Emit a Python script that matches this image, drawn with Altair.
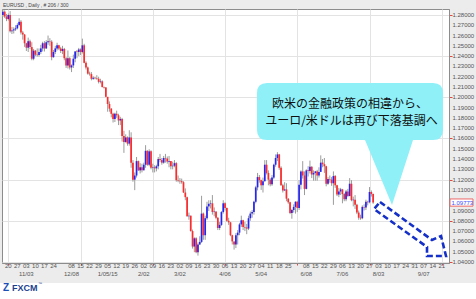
import altair as alt
import pandas as pd

# ---- data (EUR/USD daily, bar index 0 = Mon 2014-10-20) ----
first_open = 1.2800
closes = [1.2832, 1.2785, 1.2760, 1.2800, 1.2643, 1.2650, 1.2660, 1.2670, 1.2703, 1.2733,
          1.2629, 1.2610, 1.2525, 1.2482, 1.2545, 1.2488, 1.2375, 1.2453, 1.2415, 1.2410,
          1.2440, 1.2475, 1.2525, 1.2475, 1.2535, 1.2545, 1.2540, 1.2390, 1.2440, 1.2475,
          1.2505, 1.2475, 1.2450, 1.2470, 1.2380, 1.2310, 1.2380, 1.2290, 1.2310, 1.2375,
          1.2445, 1.2440, 1.2465, 1.2440, 1.2505, 1.2335, 1.2290, 1.2230, 1.2225, 1.2180,
          1.2190, 1.2185, 1.2180, 1.2150, 1.2155, 1.2100, 1.2095, 1.2005, 1.1935, 1.1890,
          1.1840, 1.1790, 1.1840, 1.1825, 1.1775, 1.1790, 1.1625, 1.1565, 1.1610, 1.1550,
          1.1610, 1.1365, 1.1200, 1.1240, 1.1380, 1.1290, 1.1320, 1.1290, 1.1345, 1.1480,
          1.1345, 1.1475, 1.1315, 1.1320, 1.1310, 1.1330, 1.1400, 1.1390, 1.1365, 1.1410,
          1.1405, 1.1375, 1.1380, 1.1330, 1.1335, 1.1360, 1.1195, 1.1190, 1.1185, 1.1175,
          1.1075, 1.1030, 1.0845, 1.0850, 1.0700, 1.0550, 1.0630, 1.0495, 1.0570, 1.0595,
          1.0870, 1.0660, 1.0825, 1.0940, 1.0965, 1.0970, 1.0885, 1.0890, 1.0830, 1.0730,
          1.0760, 1.0885, 1.0970, 1.0925, 1.0800, 1.0785, 1.0660, 1.0600, 1.0570, 1.0660,
          1.0685, 1.0765, 1.0805, 1.0740, 1.0735, 1.0725, 1.0825, 1.0870, 1.0885, 1.0985,
          1.1125, 1.1225, 1.1195, 1.1145, 1.1185, 1.1345, 1.1265, 1.1200, 1.1155, 1.1220,
          1.1345, 1.1410, 1.1445, 1.1315, 1.1145, 1.1095, 1.1105, 1.1015, 1.0980, 1.0875,
          1.0905, 1.0935, 1.0985, 1.0925, 1.1150, 1.1280, 1.1240, 1.1110, 1.1290, 1.1285,
          1.1325, 1.1250, 1.1265, 1.1280, 1.1240, 1.1275, 1.1365, 1.1350, 1.1330, 1.1160,
          1.1205, 1.1200, 1.1165, 1.1235, 1.1145, 1.1055, 1.1085, 1.1105, 1.1060, 1.1010,
          1.1085, 1.1040, 1.1160, 1.1000, 1.1005, 1.0955, 1.0880, 1.0830, 1.0825, 1.0935,
          1.0930, 1.0985, 1.0980, 1.1080, 1.1060, 1.0977]
highs = [1.2855, 1.2845, 1.2810, 1.2815, 1.2838, 1.2683, 1.2680, 1.2700, 1.2720, 1.2768,
         1.2750, 1.2645, 1.2615, 1.2530, 1.2580, 1.2560, 1.2535, 1.2470, 1.2460, 1.2475,
         1.2475, 1.2510, 1.2540, 1.2545, 1.2555, 1.2600, 1.2575, 1.2555, 1.2460, 1.2500,
         1.2530, 1.2510, 1.2490, 1.2500, 1.2480, 1.2390, 1.2455, 1.2390, 1.2320, 1.2415,
         1.2450, 1.2460, 1.2480, 1.2475, 1.2570, 1.2520, 1.2350, 1.2300, 1.2250, 1.2245,
         1.2205, 1.2200, 1.2215, 1.2200, 1.2180, 1.2165, 1.2105, 1.2100, 1.1975, 1.1960,
         1.1895, 1.1850, 1.1850, 1.1870, 1.1840, 1.1810, 1.1800, 1.1675, 1.1640, 1.1620,
         1.1680, 1.1660, 1.1390, 1.1270, 1.1420, 1.1385, 1.1360, 1.1355, 1.1365, 1.1535,
         1.1485, 1.1495, 1.1485, 1.1355, 1.1340, 1.1345, 1.1420, 1.1450, 1.1410, 1.1430,
         1.1450, 1.1425, 1.1430, 1.1375, 1.1375, 1.1390, 1.1370, 1.1240, 1.1215, 1.1210,
         1.1185, 1.1115, 1.1035, 1.0880, 1.0850, 1.0715, 1.0640, 1.0640, 1.0590, 1.0650,
         1.1043, 1.0880, 1.0850, 1.0985, 1.1000, 1.1000, 1.1050, 1.0930, 1.0890, 1.0835,
         1.0790, 1.0895, 1.1000, 1.0980, 1.0930, 1.0830, 1.0790, 1.0665, 1.0600, 1.0680,
         1.0710, 1.0780, 1.0850, 1.0810, 1.0790, 1.0770, 1.0850, 1.0890, 1.0905, 1.0995,
         1.1140, 1.1265, 1.1245, 1.1200, 1.1220, 1.1390, 1.1390, 1.1290, 1.1215, 1.1245,
         1.1355, 1.1445, 1.1467, 1.1450, 1.1330, 1.1160, 1.1175, 1.1165, 1.1020, 1.0985,
         1.0915, 1.0960, 1.0990, 1.0995, 1.1195, 1.1290, 1.1380, 1.1280, 1.1300, 1.1330,
         1.1385, 1.1330, 1.1290, 1.1285, 1.1295, 1.1320, 1.1436, 1.1400, 1.1410, 1.1335,
         1.1225, 1.1240, 1.1225, 1.1280, 1.1245, 1.1150, 1.1120, 1.1120, 1.1110, 1.1070,
         1.1100, 1.1110, 1.1215, 1.1195, 1.1035, 1.1050, 1.0965, 1.0900, 1.0860, 1.0950,
         1.0960, 1.1005, 1.0995, 1.1128, 1.1095, 1.1065]
lows = [1.2780, 1.2770, 1.2740, 1.2745, 1.2630, 1.2615, 1.2620, 1.2645, 1.2660, 1.2690,
        1.2610, 1.2560, 1.2490, 1.2450, 1.2440, 1.2470, 1.2360, 1.2360, 1.2400, 1.2395,
        1.2395, 1.2420, 1.2445, 1.2445, 1.2470, 1.2510, 1.2500, 1.2360, 1.2385, 1.2420,
        1.2455, 1.2460, 1.2430, 1.2420, 1.2360, 1.2285, 1.2280, 1.2270, 1.2245, 1.2285,
        1.2340, 1.2380, 1.2400, 1.2410, 1.2425, 1.2330, 1.2270, 1.2220, 1.2210, 1.2165,
        1.2170, 1.2175, 1.2170, 1.2135, 1.2135, 1.2095, 1.2085, 1.2000, 1.1860, 1.1860,
        1.1805, 1.1755, 1.1760, 1.1800, 1.1730, 1.1730, 1.1570, 1.1460, 1.1560, 1.1530,
        1.1530, 1.1315, 1.1180, 1.1098, 1.1220, 1.1285, 1.1260, 1.1270, 1.1305, 1.1315,
        1.1335, 1.1330, 1.1300, 1.1270, 1.1270, 1.1280, 1.1300, 1.1370, 1.1345, 1.1355,
        1.1365, 1.1355, 1.1320, 1.1300, 1.1300, 1.1320, 1.1180, 1.1175, 1.1160, 1.1160,
        1.1070, 1.1000, 1.0840, 1.0810, 1.0695, 1.0530, 1.0495, 1.0485, 1.0462, 1.0565,
        1.0585, 1.0615, 1.0615, 1.0810, 1.0895, 1.0920, 1.0860, 1.0845, 1.0815, 1.0710,
        1.0710, 1.0750, 1.0870, 1.0900, 1.0790, 1.0760, 1.0650, 1.0570, 1.0520, 1.0535,
        1.0570, 1.0660, 1.0740, 1.0710, 1.0700, 1.0670, 1.0710, 1.0800, 1.0830, 1.0860,
        1.0970, 1.1095, 1.1170, 1.1100, 1.1075, 1.1180, 1.1250, 1.1145, 1.1135, 1.1140,
        1.1205, 1.1325, 1.1380, 1.1295, 1.1140, 1.1075, 1.1090, 1.0990, 1.0965, 1.0865,
        1.0820, 1.0880, 1.0870, 1.0885, 1.0905, 1.1105, 1.1210, 1.1050, 1.1105, 1.1230,
        1.1260, 1.1215, 1.1190, 1.1190, 1.1190, 1.1220, 1.1290, 1.1320, 1.1265, 1.1135,
        1.1150, 1.1170, 1.1140, 1.0955, 1.1120, 1.1040, 1.1030, 1.1050, 1.0970, 1.0990,
        1.0990, 1.1030, 1.1040, 1.0990, 1.0940, 1.0915, 1.0865, 1.0810, 1.0810, 1.0815,
        1.0900, 1.0905, 1.0950, 1.0970, 1.1035, 1.0965]

week_ticks = list(range(0, 245, 5))
day_labels = ["20", "27", "03", "10", "17", "24", "", "08", "15", "22", "29", "05", "12",
              "19", "26", "02", "09", "16", "23", "02", "09", "16", "23", "30", "06", "13",
              "20", "27", "04", "11", "18", "25", "", "08", "15", "22", "29", "06", "13",
              "20", "27", "03", "10", "17", "24", "31", "07", "14", "21"]
month_ticks = [10, 35, 55, 75, 95, 120, 140, 165, 185, 205, 230]
month_labels = ["11/03", "12/08", "1/05/15", "2/02", "3/02", "4/06", "5/04", "6/08",
                "7/06", "8/03", "9/07"]
y_ticks = [1.04, 1.05, 1.06, 1.07, 1.08, 1.09, 1.10, 1.11, 1.12, 1.13, 1.14, 1.15, 1.16,
           1.17, 1.18, 1.19, 1.20, 1.21, 1.22, 1.23, 1.24, 1.25, 1.26, 1.27, 1.28]
# 1.10000 sits under the current-price box in the reference, so it is not labelled
y_labelled = [1.04, 1.05, 1.06, 1.07, 1.08, 1.09, 1.11, 1.12, 1.13, 1.14, 1.15, 1.16,
              1.17, 1.18, 1.19, 1.20, 1.21, 1.22, 1.23, 1.24, 1.25, 1.26, 1.27, 1.28]
last_price = 1.09773
title_text = "EURUSD , Daily , # 206 / 300"
callout_lines = ["欧米の金融政策の相違から、", "ユーロ/米ドルは再び下落基調へ"]

# ---- tables ----
opens = [first_open] + closes[:-1]
df = pd.DataFrame({"i": list(range(-3, -3 + len(closes))), "o": opens,
                   "h": highs, "l": lows, "c": closes})
df["dir"] = ["up" if c >= o else "down" for o, c in zip(df["o"], df["c"])]
ddf = pd.DataFrame({"i": week_ticks, "lab": day_labels})
ddf = ddf[ddf["lab"] != ""]
mdf = pd.DataFrame({"i": month_ticks, "lab": month_labels})
ydf = pd.DataFrame({"v": y_labelled, "lab": ["%.5f" % v for v in y_labelled]})
one = pd.DataFrame({"a": [0]})

xscale = alt.Scale(domain=[-3.5, 244], nice=False, zero=False)
yscale = alt.Scale(domain=[1.039, 1.2858], nice=False, zero=False)

xaxis = alt.Axis(values=week_ticks, labels=False, grid=True, gridColor="#e3e3e3",
                 tickColor="#e04848", tickSize=2, domainColor="#8c8c8c", title=None)
yaxis = alt.Axis(values=y_ticks, labels=False, orient="right", grid=True,
                 gridColor="#e3e3e3", tickColor="#e04848", tickSize=3,
                 domainColor="#8c8c8c", title=None)

base = alt.Chart(df)
wick = base.mark_rule(color="#9c9c9c", strokeWidth=1).encode(
    x=alt.X("i:Q", scale=xscale, axis=xaxis),
    y=alt.Y("h:Q", scale=yscale, axis=yaxis),
    y2="l:Q",
)
body = base.mark_rule(strokeWidth=1.7).encode(
    x=alt.X("i:Q", scale=xscale),
    y=alt.Y("o:Q", scale=yscale),
    y2="c:Q",
    color=alt.Color("dir:N", scale=alt.Scale(domain=["up", "down"],
                                             range=["#2424f4", "#ff2a2a"]), legend=None),
)

tick_font = dict(fontSize=6, font="Liberation Sans", color="#555555", baseline="middle")
day_text = alt.Chart(ddf).mark_text(**tick_font).encode(
    x=alt.X("i:Q", scale=xscale), y=alt.value(257), text="lab:N")
month_text = alt.Chart(mdf).mark_text(**tick_font).encode(
    x=alt.X("i:Q", scale=xscale), y=alt.value(265), text="lab:N")
y_text = alt.Chart(ydf).mark_text(align="left", **tick_font).encode(
    x=alt.value(450.5), y=alt.Y("v:Q", scale=yscale), text="lab:N")

# callout bubble (path drawn in page pixel coordinates; point placed at page origin)
bubble_path = ("M267,83 L433,83 Q443,83 443,93 L443,130 Q443,140 433,140 L413,140 "
               "L392,205 L365,140 L267,140 Q257,140 257,130 L257,93 Q257,83 267,83 Z")
arrow_path = "M380,202 L432,240 L441,236 L446,256 L427,256 L427,247 L374,209 Z"

bubble = alt.Chart(one).mark_point(shape=bubble_path, size=4, filled=True,
                                   color="#8ff0f8", opacity=1, strokeWidth=0).encode(
    x=alt.value(-2), y=alt.value(-9))
arrow = alt.Chart(one).mark_point(shape=arrow_path, size=4, filled=False,
                                  color="#1430c8", opacity=1, strokeWidth=2.6,
                                  strokeDash=[6, 3]).encode(
    x=alt.value(-2), y=alt.value(-9))
line1 = alt.Chart(one).mark_text(text=callout_lines[0], font="Noto Sans CJK JP",
                                 fontSize=12, color="#111111", baseline="middle").encode(
    x=alt.value(348), y=alt.value(95))
line2 = alt.Chart(one).mark_text(text=callout_lines[1], font="Noto Sans CJK JP",
                                 fontSize=12, color="#111111", baseline="middle").encode(
    x=alt.value(349.5), y=alt.value(112))

price_box = alt.Chart(one).mark_rect(fill="white", stroke="#ee6a6a", strokeWidth=1).encode(
    x=alt.value(448), x2=alt.value(471),
    y=alt.datum(last_price + 0.0035, scale=yscale),
    y2=alt.datum(last_price - 0.0035))
price_text = alt.Chart(one).mark_text(text="%.5f" % last_price, fontSize=6,
                                      font="Liberation Sans", color="#3a4cff",
                                      align="left", baseline="middle").encode(
    x=alt.value(449.5), y=alt.datum(last_price, scale=yscale))

title = alt.Chart(one).mark_text(text=title_text, fontSize=5, font="Liberation Sans",
                                 color="#444444", align="left", baseline="middle").encode(
    x=alt.value(1), y=alt.value(-4.5))

strip = alt.Chart(one).mark_rect(fill="white").encode(
    x=alt.value(-2), x2=alt.value(474), y=alt.value(274), y2=alt.value(290))
logo_icon = alt.Chart(one).mark_text(text="Z", fontSize=10, fontWeight="bold",
                                     font="Liberation Sans", color="#1e4fb8",
                                     align="left", baseline="middle").encode(
    x=alt.value(1), y=alt.value(279))
logo_text = alt.Chart(one).mark_text(text="FXCM", fontSize=9, fontWeight="bold",
                                     font="Liberation Sans", color="#1d3f8f",
                                     align="left", baseline="middle").encode(
    x=alt.value(10), y=alt.value(279))
logo_tm = alt.Chart(one).mark_text(text="™", fontSize=4, font="Liberation Sans",
                                   color="#1d3f8f", align="left", baseline="middle").encode(
    x=alt.value(36), y=alt.value(275))

chart = alt.layer(
    wick, body, day_text, month_text, y_text, bubble, arrow, line1, line2,
    price_box, price_text, title, strip, logo_icon, logo_text, logo_tm
).properties(
    width=447, height=254, autosize="none", background="#ececec",
    padding={"left": 2, "top": 9, "right": 27, "bottom": 36},
).configure_view(
    stroke="#8c8c8c", fill="white"
)

chart.save("out.html", embed_options={"renderer": "svg", "actions": False})
